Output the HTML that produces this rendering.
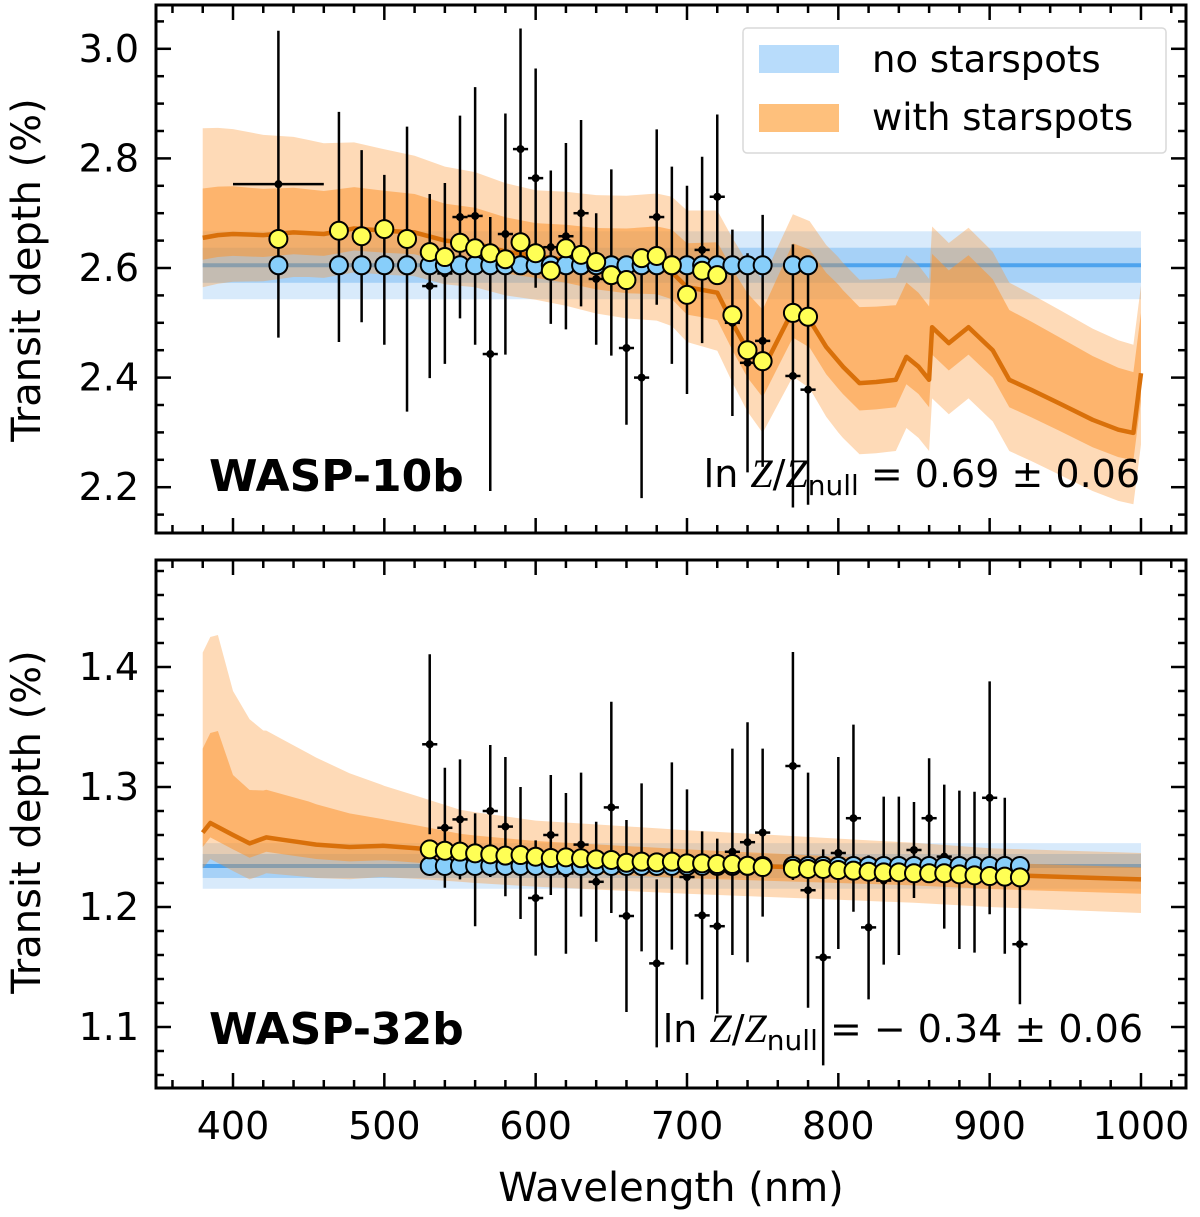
<!DOCTYPE html>
<html><head><meta charset="utf-8"><style>
html,body{margin:0;padding:0;background:#fff;}
svg{display:block;font-family:"DejaVu Sans","Liberation Sans",sans-serif;}
</style></head><body>
<svg id="chart" width="1200" height="1217" viewBox="0 0 1200 1217" xmlns="http://www.w3.org/2000/svg">
<defs>
<clipPath id="clipTop"><rect x="156" y="5" width="1030" height="528"/></clipPath>
<clipPath id="clipBot"><rect x="156" y="560" width="1030" height="528"/></clipPath>
</defs>
<g id="topLayer" clip-path="url(#clipTop)"></g>
<g id="botLayer" clip-path="url(#clipBot)"></g>
<g id="axes"></g>
<text x="0" y="0" font-size="40" text-anchor="middle" transform="translate(40,270) rotate(-90)">Transit depth (%)</text>
<text x="0" y="0" font-size="40" text-anchor="middle" transform="translate(40,822) rotate(-90)">Transit depth (%)</text>
<text x="671" y="1201" font-size="40" text-anchor="middle">Wavelength (nm)</text>
<text x="209" y="491" font-size="44" font-weight="bold">WASP-10b</text>
<text x="209" y="1044" font-size="44" font-weight="bold">WASP-32b</text>
<text x="1140" y="487" font-size="38" text-anchor="end">ln <tspan font-family="Liberation Serif" font-style="italic" font-size="40">Z</tspan>/<tspan font-family="Liberation Serif" font-style="italic" font-size="40">Z</tspan><tspan font-size="28" dy="8">null</tspan><tspan dy="-8"> = 0.69 ± 0.06</tspan></text>
<text x="1143" y="1042" font-size="38" text-anchor="end">ln <tspan font-family="Liberation Serif" font-style="italic" font-size="40">Z</tspan>/<tspan font-family="Liberation Serif" font-style="italic" font-size="40">Z</tspan><tspan font-size="28" dy="8">null</tspan><tspan dy="-8"> = − 0.34 ± 0.06</tspan></text>
<g>
<rect x="743" y="28" width="423" height="125" rx="4" fill="#fff" fill-opacity="0.85" stroke="#d9d9d9" stroke-width="1.5"/>
<rect x="759" y="45" width="80" height="28" fill="#b8dcfb"/>
<text x="872" y="72" font-size="37">no starspots</text>
<rect x="759" y="104" width="80" height="28" fill="#fec07c"/>
<text x="872" y="130" font-size="37">with starspots</text>
</g>
</svg>
<script>
// ---------- WASP-10b data ----------
const wl10 = [430,470,485,500,515,530,540,550,560,570,580,590,600,610,620,630,640,650,660,670,680,690,700,710,720,730,740,750,770,780];
const obs10 = [2.753,2.675,2.658,2.615,2.598,2.567,2.59,2.693,2.695,2.443,2.662,2.817,2.764,2.638,2.658,2.70,2.58,2.61,2.454,2.40,2.693,2.605,2.56,2.633,2.73,2.50,2.427,2.467,2.403,2.378];
const err10 = [0.28,0.21,0.157,0.155,0.26,0.168,0.165,0.185,0.235,0.25,0.22,0.22,0.2,0.14,0.17,0.17,0.12,0.17,0.14,0.22,0.16,0.18,0.19,0.17,0.15,0.17,0.2,0.23,0.24,0.21];
const xerr10 = [30,5,5,5,5,5,5,5,5,5,5,5,5,5,5,5,5,5,5,5,5,5,5,5,5,5,5,5,5,5];
const spot10 = [2.653,2.668,2.658,2.671,2.653,2.629,2.62,2.646,2.636,2.627,2.616,2.647,2.627,2.595,2.636,2.624,2.611,2.587,2.578,2.618,2.622,2.605,2.551,2.595,2.587,2.514,2.45,2.43,2.518,2.511];
const null10 = 2.605;
const nullBand10 = [0.032, 0.062];
const specWl10 = [380,390,400,420,440,460,480,500,520,540,560,580,600,620,640,660,680,690,700,710,720,730,740,750,761,770,781,792,803,814,825,838,845,853,860,862,873,886,902,913,928,946,968,985,995,1000];
const specMed10 = [2.655,2.66,2.662,2.66,2.665,2.662,2.672,2.668,2.665,2.65,2.645,2.63,2.622,2.615,2.605,2.6,2.6,2.592,2.565,2.56,2.555,2.5,2.45,2.414,2.474,2.523,2.505,2.456,2.42,2.39,2.392,2.396,2.438,2.42,2.396,2.492,2.463,2.492,2.45,2.396,2.377,2.353,2.323,2.305,2.299,2.408];
const bandWl10 = [380,450,520,600,700,800,900,1000];
const up2_10 = [0.2,0.17,0.14,0.12,0.14,0.19,0.18,0.16];
const up1_10 = [0.09,0.08,0.07,0.06,0.08,0.14,0.13,0.11];
const dn1_10 = [0.04,0.04,0.04,0.04,0.05,0.05,0.05,0.05];
const dn2_10 = [0.09,0.08,0.08,0.08,0.1,0.13,0.13,0.13];
// ---------- WASP-32b data ----------
const wl32 = [530,540,550,560,570,580,590,600,610,620,630,640,650,660,670,680,690,700,710,720,730,740,750,770,780,790,800,810,820,830,840,850,860,870,880,890,900,910,920];
const obs32 = [1.3356,1.266,1.273,1.231,1.28,1.267,1.245,1.2075,1.26,1.228,1.252,1.221,1.283,1.1925,1.233,1.153,1.2425,1.225,1.193,1.184,1.246,1.254,1.262,1.3175,1.214,1.158,1.245,1.274,1.183,1.222,1.226,1.2475,1.274,1.242,1.231,1.229,1.291,1.226,1.169];
const err32 = [0.075,0.05,0.05,0.047,0.055,0.058,0.055,0.048,0.05,0.067,0.06,0.05,0.088,0.08,0.07,0.07,0.078,0.073,0.07,0.073,0.086,0.1,0.07,0.095,0.098,0.09,0.08,0.078,0.06,0.07,0.066,0.04,0.05,0.06,0.066,0.067,0.097,0.065,0.05];
const spot32 = [1.248,1.2469,1.2461,1.2447,1.2439,1.2428,1.2433,1.2419,1.2408,1.2414,1.2406,1.2397,1.2392,1.2369,1.2378,1.2372,1.2378,1.2364,1.2364,1.2358,1.2358,1.2344,1.2333,1.2319,1.2317,1.2317,1.2308,1.2303,1.2294,1.2289,1.2289,1.2281,1.2281,1.2281,1.2272,1.2264,1.2258,1.2253,1.2247];
const null32 = 1.2342;
const nullBand32 = [0.01, 0.019];
const specWl32 = [380,385,400,411,422,433,444,455,477,499,521,560,600,650,700,750,800,850,900,950,1000];
const specMed32 = [1.262,1.27,1.26,1.253,1.258,1.256,1.254,1.252,1.25,1.251,1.249,1.245,1.242,1.239,1.236,1.234,1.232,1.23,1.227,1.225,1.223];
const bandWl32 = [380,390,400,420,450,500,550,600,700,800,900,1000];
const up2_32 = [0.15,0.16,0.12,0.09,0.075,0.05,0.035,0.03,0.028,0.025,0.022,0.022];
const up1_32 = [0.07,0.08,0.05,0.04,0.035,0.022,0.015,0.013,0.012,0.01,0.01,0.01];
const dn1_32 = [0.012,0.012,0.012,0.012,0.012,0.012,0.012,0.012,0.012,0.012,0.012,0.012];
const dn2_32 = [0.03,0.03,0.03,0.03,0.028,0.026,0.025,0.025,0.025,0.026,0.027,0.028];
// ---------- ticks ----------
const xTicks = [400,500,600,700,800,900,1000];
const yTicks10 = [2.2,2.4,2.6,2.8,3.0];
const yTicks32 = [1.1,1.2,1.3,1.4];

const NS = "http://www.w3.org/2000/svg";
const X0 = 156, X1 = 1186;
function xs(w){ return 233 + (w - 400) * 1.5133; }
const panels = {
  top: {y0:5, y1:533, ys: v => 268 - (v - 2.6) * 548, vmin:2.118, vmax:3.078, minor:0.05, layer:document.getElementById('topLayer')},
  bot: {y0:560, y1:1088, ys: v => 907 - (v - 1.2) * 1200, vmin:1.052, vmax:1.492, minor:0.02, layer:document.getElementById('botLayer')}
};
function mk(parent, tag, attrs){
  const e = document.createElementNS(NS, tag);
  for (const k in attrs) e.setAttribute(k, attrs[k]);
  parent.appendChild(e);
  return e;
}
function interp(xa, ya, x){
  if (x <= xa[0]) return ya[0];
  for (let i = 1; i < xa.length; i++) if (x <= xa[i]) { const t = (x - xa[i-1]) / (xa[i] - xa[i-1]); return ya[i-1] + t * (ya[i] - ya[i-1]); }
  return ya[ya.length-1];
}
function drawModel(p, name, sWl, sMed, bWl, u1, d1, u2, d2, nullV, nb){
  const g = p.layer, ys = p.ys;
  let el;
  el = mk(g, 'rect', {x:xs(380), y:ys(nullV+nb[1]), width:xs(1000)-xs(380), height:ys(nullV-nb[1])-ys(nullV+nb[1]), fill:'#d8eafb'});
  
  
  el = mk(g, 'rect', {x:xs(380), y:ys(nullV+nb[0]), width:xs(1000)-xs(380), height:ys(nullV-nb[0])-ys(nullV+nb[0]), fill:'#a6d1f7'});
  
  
  el = mk(g, 'line', {x1:xs(380), x2:xs(1000), y1:ys(nullV), y2:ys(nullV), stroke:'#4da3ee', 'stroke-width':4});
  
  
  const grid = Array.from(new Set(sWl.concat(bWl))).sort((a,b)=>a-b);
  function band(up, dn){
    const top = grid.map(w=> xs(w).toFixed(1)+','+ys(interp(sWl,sMed,w)+interp(bWl, up, w)).toFixed(1));
    const bot = grid.map(w=> xs(w).toFixed(1)+','+ys(interp(sWl,sMed,w)-interp(bWl, dn, w)).toFixed(1)).reverse();
    return top.concat(bot).join(' ');
  }
  el = mk(g, 'polygon', {points:band(u2,d2), fill:'rgb(252,150,50)', 'fill-opacity':0.35});
  
  
  el = mk(g, 'polygon', {points:band(u1,d1), fill:'rgb(252,150,50)', 'fill-opacity':0.55});
  
  
  el = mk(g, 'polyline', {points:sWl.map((w,i)=>xs(w).toFixed(1)+','+ys(sMed[i]).toFixed(1)).join(' '), fill:'none', stroke:'#d9700a', 'stroke-width':4.5, 'stroke-linejoin':'round'});
  
  
}
function drawData(p, name, wl, obs, err, xerr, spot, nullV){
  const g = p.layer, ys = p.ys;
  wl.forEach((w,i)=>{
    let el = mk(g, 'line', {x1:xs(w), x2:xs(w), y1:ys(obs[i]+err[i]), y2:ys(obs[i]-err[i]), stroke:'#000', 'stroke-width':2.5});
    
    
    const xe = xerr ? xerr[i] : 5;
    el = mk(g, 'line', {x1:xs(w-xe), x2:xs(w+xe), y1:ys(obs[i]), y2:ys(obs[i]), stroke:'#000', 'stroke-width':2.5});
    
    
    el = mk(g, 'circle', {cx:xs(w), cy:ys(obs[i]), r:4, fill:'#000'});
    
    
  });
  wl.forEach((w,i)=>{
    const el = mk(g, 'circle', {cx:xs(w), cy:ys(nullV), r:9, fill:'#87cefa', stroke:'#000', 'stroke-width':2});
    
    
  });
  wl.forEach((w,i)=>{
    const el = mk(g, 'circle', {cx:xs(w), cy:ys(spot[i]), r:9, fill:'#ffff55', stroke:'#000', 'stroke-width':2});
    
    
  });
}
drawModel(panels.top, 'wasp-10b', specWl10, specMed10, bandWl10, up1_10, dn1_10, up2_10, dn2_10, null10, nullBand10);
drawData(panels.top, 'wasp-10b', wl10, obs10, err10, xerr10, spot10, null10);
drawModel(panels.bot, 'wasp-32b', specWl32, specMed32, bandWl32, up1_32, dn1_32, up2_32, dn2_32, null32, nullBand32);
drawData(panels.bot, 'wasp-32b', wl32, obs32, err32, null, spot32, null32);

const ax = document.getElementById('axes');
function drawAxes(p, key, yTicks){
  let el = mk(ax, 'rect', {x:X0, y:p.y0, width:X1-X0, height:p.y1-p.y0, fill:'none', stroke:'#000', 'stroke-width':3});
  
  
  for (let w = 360; w <= 1020; w += 20){
    const x = xs(w); if (x <= X0+1 || x >= X1-1) continue;
    const L = (w % 100 === 0) ? 15 : 8;
    el = mk(ax, 'line', {x1:x, x2:x, y1:p.y1, y2:p.y1-L, stroke:'#000', 'stroke-width':2.5});
    
    
    el = mk(ax, 'line', {x1:x, x2:x, y1:p.y0, y2:p.y0+L, stroke:'#000', 'stroke-width':2.5});
    
    
  }
  const n0 = Math.ceil(p.vmin / p.minor), n1 = Math.floor(p.vmax / p.minor);
  for (let n = n0; n <= n1; n++){
    const v = n * p.minor, y = p.ys(v);
    const major = yTicks.some(t => Math.abs(t - v) < 1e-6);
    const L = major ? 15 : 8;
    el = mk(ax, 'line', {x1:X0, x2:X0+L, y1:y, y2:y, stroke:'#000', 'stroke-width':2.5});
    
    
    el = mk(ax, 'line', {x1:X1, x2:X1-L, y1:y, y2:y, stroke:'#000', 'stroke-width':2.5});
    
    
  }
  yTicks.forEach(t=>{
    const tx = mk(ax, 'text', {x:139, y:p.ys(t)+13, 'font-size':38, 'text-anchor':'end'});
    tx.textContent = t.toFixed(1);
    
    
  });
}
drawAxes(panels.top, 'top', yTicks10);
drawAxes(panels.bot, 'bottom', yTicks32);
xTicks.forEach(t=>{
  const tx = mk(ax, 'text', {x:xs(t), y:1139, 'font-size':38, 'text-anchor':'middle'});
  tx.textContent = String(t);
  
  
});
</script>
</body></html>
